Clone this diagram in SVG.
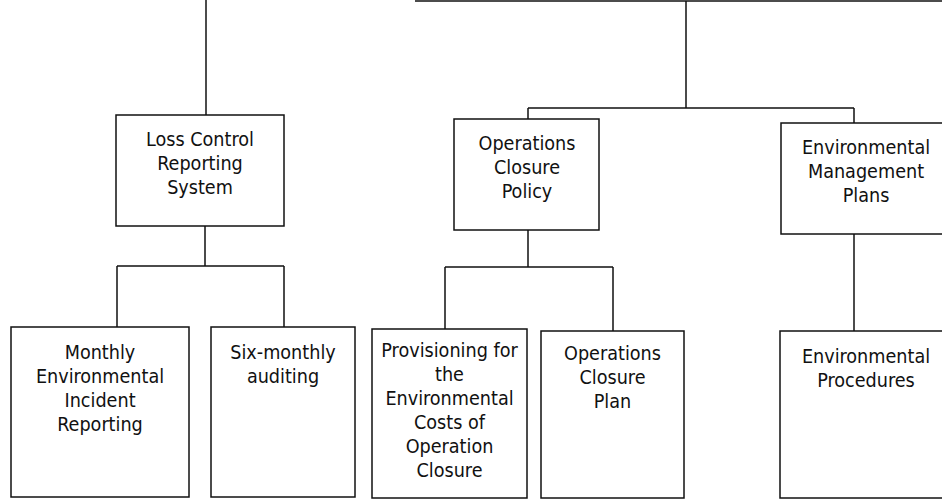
<svg xmlns="http://www.w3.org/2000/svg" width="942" height="501" viewBox="0 0 942 501">
<style>
.box{fill:#fff;stroke:#111;stroke-width:1.5}
.ln{fill:none;stroke:#111;stroke-width:1.5}
text{font-family:"DejaVu Sans Condensed","DejaVu Sans","Liberation Sans",sans-serif;font-size:19.6px;fill:#111;text-anchor:middle}
</style>
<rect width="942" height="501" fill="#fff"/>
<g id="connectors">
<path class="ln" d="M415 1H944"/>
<path class="ln" d="M206 -2V115"/>
<path class="ln" d="M686 1V108M528 108H854M528 108V119M854 108V123"/>
<path class="ln" d="M205 226V266M117 266H284M117 266V327M284 266V327"/>
<path class="ln" d="M528 230V267M445 267H613M445 267V329M613 267V331"/>
<path class="ln" d="M854 234V331"/>
</g>
<g id="loss-control">
<rect class="box" x="116" y="115" width="168" height="111"/>
<text x="200" y="146">Loss Control</text>
<text x="200" y="170">Reporting</text>
<text x="200" y="194">System</text>
</g>
<g id="ops-closure-policy">
<rect class="box" x="454" y="119" width="145" height="111"/>
<text x="527" y="150">Operations</text>
<text x="527" y="174">Closure</text>
<text x="527" y="198">Policy</text>
</g>
<g id="env-mgmt-plans">
<rect class="box" x="781" y="123" width="170" height="111"/>
<text x="866" y="154">Environmental</text>
<text x="866" y="178">Management</text>
<text x="866" y="202">Plans</text>
</g>
<g id="monthly">
<rect class="box" x="11" y="327" width="178" height="170"/>
<text x="100" y="359">Monthly</text>
<text x="100" y="383">Environmental</text>
<text x="100" y="407">Incident</text>
<text x="100" y="431">Reporting</text>
</g>
<g id="six-monthly">
<rect class="box" x="211" y="327" width="144" height="170"/>
<text x="283" y="359">Six-monthly</text>
<text x="283" y="383">auditing</text>
</g>
<g id="provisioning">
<rect class="box" x="372" y="329" width="155" height="169"/>
<text x="449.5" y="357">Provisioning for</text>
<text x="449.5" y="381">the</text>
<text x="449.5" y="405">Environmental</text>
<text x="449.5" y="429">Costs of</text>
<text x="449.5" y="453">Operation</text>
<text x="449.5" y="477">Closure</text>
</g>
<g id="ops-closure-plan">
<rect class="box" x="541" y="331" width="143" height="167"/>
<text x="612.5" y="360">Operations</text>
<text x="612.5" y="384">Closure</text>
<text x="612.5" y="408">Plan</text>
</g>
<g id="env-procedures">
<rect class="box" x="780" y="331" width="171" height="167"/>
<text x="866" y="363">Environmental</text>
<text x="866" y="387">Procedures</text>
</g>
</svg>
